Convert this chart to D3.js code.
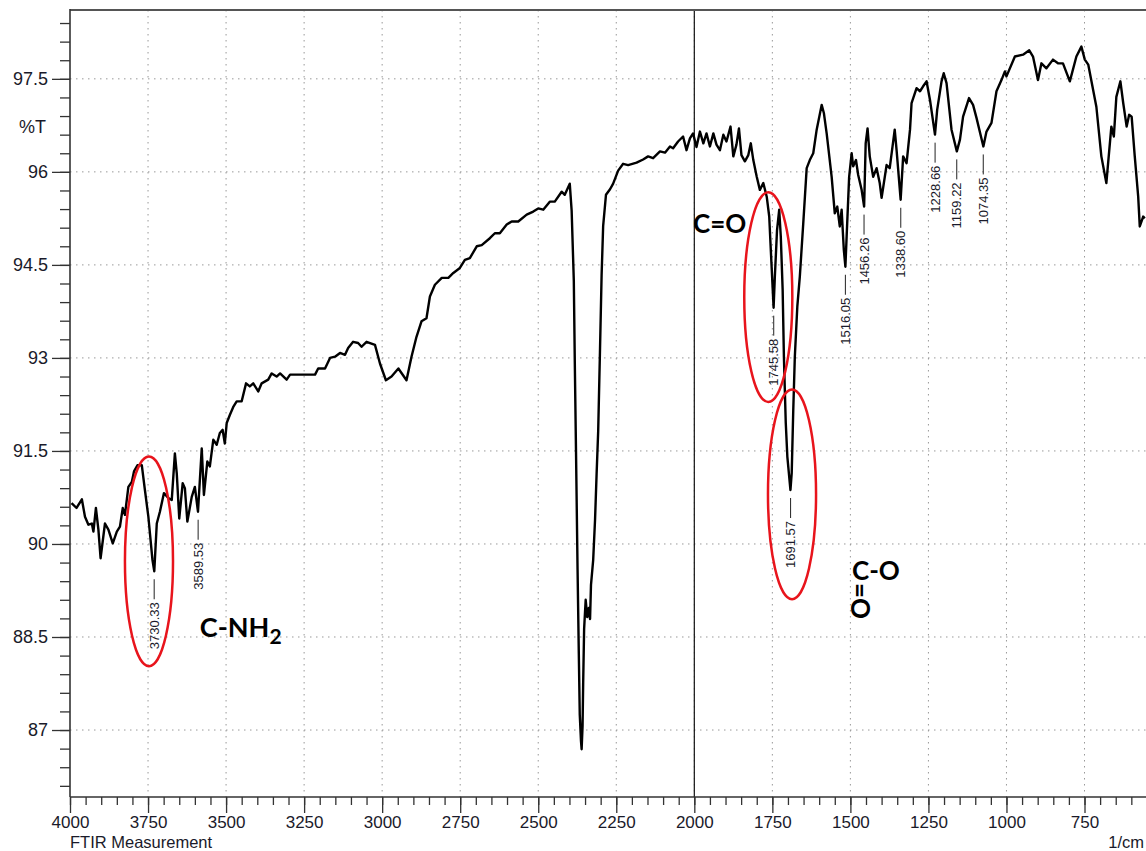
<!DOCTYPE html>
<html>
<head>
<meta charset="utf-8">
<script src="https://cdn.jsdelivr.net/npm/d3@7"></script>
<style>
  body { margin: 0; background: #fff; }
  svg { display: block; font-family: "Liberation Sans", Arial, sans-serif; }
</style>
</head>
<body>
<div id="chart"></div>
<script>
// FTIR spectrum

var width = 1146;
var height = 851;

var wavenumber = [
  3995,3979,3962,3952,3941,3930,3925,3917,3909,3902,
  3888,3877,3863,3850,3840,3831,3824,3813,3802,3795,
  3784,3770,3760,3749,3736,3730,3722,3712,3699,3685,
  3674,3664,3658,3650,3639,3632,3624,3610,3600,3590,
  3578,3571,3560,3552,3541,3530,3520,3511,3504,3498,
  3488,3477,3466,3450,3436,3424,3413,3397,3386,3365,
  3354,3338,3327,3306,3295,3263,3215,3205,3183,3167,
  3151,3135,3119,3109,3093,3077,3066,3050,3023,3007,
  2988,2970,2948,2922,2906,2890,2874,2858,2847,2831,
  2809,2788,2772,2751,2735,2719,2697,2681,2655,2639,
  2623,2601,2585,2564,2537,2516,2500,2484,2463,2447,
  2425,2415,2399,2393,2386,2383,2379,2374,2370,2367,
  2363,2361,2358,2356,2353,2348,2343,2338,2334,2331,
  2324,2318,2313,2308,2302,2297,2292,2283,2270,2260,
  2244,2228,2212,2185,2164,2148,2132,2110,2094,2078,
  2068,2052,2036,2025,2014,2004,1993,1982,1971,1961,
  1950,1939,1929,1918,1907,1897,1884,1875,1865,1857,
  1849,1838,1827,1819,1811,1800,1790,1779,1768,1760,
  1756,1746,1742,1735,1728,1723,1717,1713,1707,1702,
  1692,1688,1683,1678,1670,1662,1651,1640,1630,1619,
  1608,1592,1585,1576,1560,1550,1542,1534,1528,1521,
  1516,1512,1504,1496,1491,1482,1475,1464,1456,1451,
  1445,1438,1427,1416,1406,1400,1384,1374,1358,1352,
  1339,1331,1320,1309,1304,1288,1277,1267,1256,1245,
  1229,1222,1208,1201,1192,1176,1159,1149,1139,1120,
  1107,1096,1074,1064,1048,1032,1016,1005,1000,973,
  947,927,915,899,888,872,851,835,819,797,
  776,760,749,738,712,696,680,664,656,648,
  635,626,615,607,599,589,578,573,562,557
];

var transmittance = [
  90.66,90.58,90.72,90.44,90.31,90.33,90.20,90.58,90.23,89.77,
  90.33,90.23,90.01,90.20,90.28,90.58,90.47,90.92,91.00,91.17,
  91.27,91.27,90.87,90.44,89.75,89.56,90.33,90.52,90.82,90.74,
  90.71,91.46,91.14,90.41,90.98,90.90,90.36,90.76,90.92,90.52,
  91.54,90.79,91.33,91.25,91.68,91.60,91.79,91.84,91.62,91.95,
  92.08,92.21,92.30,92.30,92.59,92.54,92.59,92.46,92.59,92.65,
  92.75,92.70,92.75,92.65,92.73,92.73,92.73,92.83,92.83,93.00,
  93.02,93.08,93.05,93.16,93.26,93.24,93.18,93.26,93.21,92.91,
  92.64,92.70,92.83,92.64,93.02,93.34,93.59,93.64,93.99,94.18,
  94.29,94.29,94.37,94.45,94.58,94.61,94.80,94.82,94.93,95.01,
  95.01,95.15,95.20,95.20,95.31,95.36,95.41,95.39,95.52,95.52,
  95.68,95.63,95.81,95.38,94.24,92.98,91.50,89.59,88.23,87.25,
  86.82,86.69,87.06,87.77,88.63,89.10,88.82,88.97,88.79,89.34,
  89.74,90.39,91.13,91.81,93.16,94.33,95.13,95.63,95.72,95.81,
  96.02,96.13,96.11,96.15,96.20,96.25,96.22,96.33,96.31,96.41,
  96.38,96.49,96.57,96.35,96.54,96.62,96.40,96.65,96.46,96.62,
  96.41,96.62,96.44,96.35,96.60,96.49,96.73,96.25,96.44,96.70,
  96.27,96.17,96.27,96.46,96.19,95.92,95.71,95.82,95.60,95.28,
  94.85,93.81,94.31,95.06,95.39,94.96,94.10,93.02,91.95,91.41,
  90.87,91.14,92.16,93.02,93.83,94.31,95.17,96.06,96.19,96.30,
  96.68,97.08,96.95,96.62,95.92,95.33,95.44,95.12,95.39,94.74,
  94.47,94.96,95.92,96.30,96.09,96.19,95.95,95.71,95.44,96.46,
  96.70,96.25,95.92,96.06,95.82,95.58,96.11,96.06,96.68,96.35,
  95.55,96.25,96.14,96.68,97.11,97.35,97.30,97.38,97.46,97.16,
  96.60,97.00,97.46,97.59,97.43,96.68,96.33,96.52,96.89,97.19,
  97.08,96.87,96.41,96.65,96.79,97.30,97.48,97.62,97.54,97.86,
  97.89,97.96,97.86,97.48,97.75,97.67,97.81,97.75,97.75,97.46,
  97.86,98.02,97.81,97.73,97.05,96.25,95.82,96.73,96.57,97.21,
  97.46,97.11,96.73,96.92,96.89,96.25,95.60,95.12,95.28,95.25
];

// peak picks
var peakWn = [3730.33, 3589.53, 1745.58, 1691.57, 1516.05, 1456.26, 1338.60, 1228.66, 1159.22, 1074.35];
var peakT = [89.56, 90.52, 93.81, 90.87, 94.47, 95.44, 95.55, 96.60, 96.33, 96.41];
var peakLabels = ["3730.33", "3589.53", "1745.58", "1691.57", "1516.05", "1456.26", "1338.60", "1228.66", "1159.22", "1074.35"];

// red ellipses round the bands
var ellipseWn = [3747, 1763, 1687];
var ellipseT = [89.72, 93.98, 90.80];

// group names
var groupWn = [3584, 2004, 1495];
var groupT = [88.50, 95.02, 89.42];

var xTicks = [4000, 3750, 3500, 3250, 3000, 2750, 2500, 2250, 2000, 1750, 1500, 1250, 1000, 750];
var yTicks = [87, 88.5, 90, 91.5, 93, 94.5, 96, 97.5];

// ("top" is taken by window.top)
var plotLeft = 70, plotRight = 1146, plotTop = 10, plotBottom = 797;

var x = d3.scaleLinear().domain([4000, 553]).range([plotLeft, plotRight]);
var y = d3.scaleLinear().domain([85.92, 98.61]).range([plotBottom, plotTop]);

var svg = d3.select("#chart").append("svg")
    .attr("width", width)
    .attr("height", height);

// dotted grid
var grid = svg.append("g").attr("stroke", "#999").attr("stroke-width", 1)
    .attr("stroke-dasharray", "1.5,4.5");
grid.selectAll("line.h").data(yTicks).enter().append("line")
    .attr("x1", plotLeft).attr("x2", plotRight)
    .attr("y1", function(d) { return y(d); })
    .attr("y2", function(d) { return y(d); });
grid.selectAll("line.v").data(xTicks.slice(1)).enter().append("line")
    .attr("x1", function(d) { return x(d); })
    .attr("x2", function(d) { return x(d); })
    .attr("y1", plotTop).attr("y2", plotBottom);

// solid line at 2000
svg.append("line")
    .attr("x1", x(2000)).attr("x2", x(2000))
    .attr("y1", plotTop).attr("y2", plotBottom)
    .attr("stroke", "#111").attr("stroke-width", 1.2);

// axes
var xMajor = d3.axisBottom(x).tickValues(xTicks).tickSize(16).tickPadding(3).tickFormat(d3.format("d"));
var xMinor = d3.axisBottom(x).tickValues(d3.range(4000, 553, -50)).tickSize(8).tickFormat("");
var yMajor = d3.axisLeft(y).tickValues(yTicks).tickSize(18).tickPadding(4).tickFormat(d3.format(""));
var yMinor = d3.axisLeft(y).tickValues(d3.range(86.1, 98.5, 0.3)).tickSize(10).tickFormat("");

function styleAxis(g) {
  g.select(".domain").remove();
  g.selectAll(".tick line").attr("stroke", "#333").attr("stroke-width", 1.3);
  g.selectAll(".tick text").attr("fill", "#1a1a2a")
      .style("font-family", "'Liberation Sans', Arial, sans-serif")
      .style("font-size", "18px");
}

svg.append("g").attr("transform", "translate(0," + plotBottom + ")").call(xMinor).call(styleAxis);
svg.append("g").attr("transform", "translate(0," + plotBottom + ")").call(xMajor).call(styleAxis)
    .selectAll(".tick text").style("font-size", "17px");
svg.append("g").attr("transform", "translate(" + plotLeft + ",0)").call(yMinor).call(styleAxis);
svg.append("g").attr("transform", "translate(" + plotLeft + ",0)").call(yMajor).call(styleAxis);

// frame
svg.append("line").attr("x1", plotLeft).attr("x2", plotRight).attr("y1", plotTop).attr("y2", plotTop)
    .attr("stroke", "#555").attr("stroke-width", 2);
svg.append("line").attr("x1", plotLeft).attr("x2", plotLeft).attr("y1", plotTop - 1).attr("y2", plotBottom)
    .attr("stroke", "#333").attr("stroke-width", 1.6);
svg.append("line").attr("x1", plotLeft).attr("x2", plotRight).attr("y1", plotBottom).attr("y2", plotBottom)
    .attr("stroke", "#333").attr("stroke-width", 1.6);

// spectrum
var points = d3.zip(wavenumber, transmittance);
var line = d3.line()
    .x(function(d) { return x(d[0]); })
    .y(function(d) { return y(d[1]); });

svg.append("path")
    .datum(points)
    .attr("d", line)
    .attr("fill", "none")
    .attr("stroke", "#000")
    .attr("stroke-width", 2.4)
    .attr("stroke-linejoin", "round");

// peak labels
var peaks = svg.append("g");
peakWn.forEach(function(wn, i) {
  var px = x(wn), py = y(peakT[i]);
  peaks.append("line")
      .attr("x1", px).attr("x2", px)
      .attr("y1", py + 8).attr("y2", py + 28)
      .attr("stroke", "#222").attr("stroke-width", 1);
  peaks.append("text")
      .attr("transform", "translate(" + (px + 4.5) + "," + (py + 31) + ") rotate(-90)")
      .attr("text-anchor", "end")
      .attr("fill", "#1a1a2a")
      .style("font-size", "13px")
      .text(peakLabels[i]);
});

// ellipses
ellipseWn.forEach(function(wn, i) {
  svg.append("ellipse")
      .attr("cx", x(wn))
      .attr("cy", y(ellipseT[i]))
      .attr("rx", Math.abs(x(wn + 77) - x(wn)))
      .attr("ry", Math.abs(y(ellipseT[i] + 1.69) - y(ellipseT[i])))
      .attr("fill", "none")
      .attr("stroke", "#e8141c")
      .attr("stroke-width", 2.5);
});

// group names
var bold = "Lato, 'Open Sans', sans-serif";
var t1 = svg.append("text")
    .attr("x", x(groupWn[0])).attr("y", y(groupT[0]))
    .style("font-family", bold).style("font-weight", 700).style("font-size", "27px")
    .text("C-NH");
t1.append("tspan").attr("dy", 7).style("font-size", "21px").text("2");

svg.append("text")
    .attr("x", x(groupWn[1])).attr("y", y(groupT[1]))
    .style("font-family", bold).style("font-weight", 700).style("font-size", "26px")
    .text("C=O");

svg.append("text")
    .attr("x", x(groupWn[2])).attr("y", y(groupT[2]))
    .style("font-family", bold).style("font-weight", 700).style("font-size", "26px")
    .text("C-O");
svg.append("text")
    .attr("transform", "translate(" + (x(groupWn[2]) - 1) + "," + (y(groupT[2]) + 3) + ") rotate(90)")
    .style("font-family", bold).style("font-weight", 700).style("font-size", "26px")
    .text("=O");

// axis captions
svg.append("text").attr("x", 46).attr("y", 133).attr("text-anchor", "end")
    .attr("fill", "#1a1a2a").style("font-size", "18px").text("%T");
svg.append("text").attr("x", plotLeft).attr("y", 848)
    .attr("fill", "#1a1a2a").style("font-size", "16.5px").text("FTIR Measurement");
svg.append("text").attr("x", 1144).attr("y", 848).attr("text-anchor", "end")
    .attr("fill", "#1a1a2a").style("font-size", "16.5px").text("1/cm");
</script>
</body>
</html>
